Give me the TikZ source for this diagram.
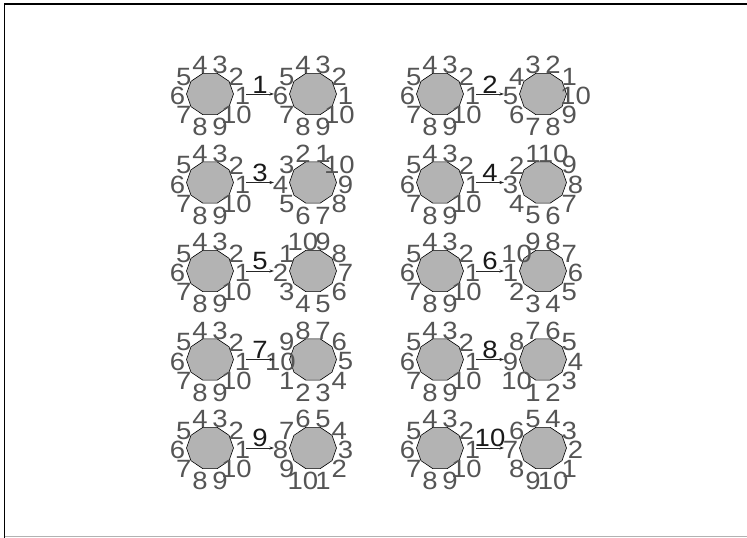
\documentclass[tikz,border=0pt]{standalone}
\usepackage{fontspec}
\setmainfont{Liberation Sans}
\newfontfamily\numfont[FakeStretch=1.1]{Liberation Sans}
\usetikzlibrary{shapes.geometric,arrows.meta}
\definecolor{decagray}{RGB}{179,179,179}
\definecolor{numgray}{RGB}{85,85,85}
\tikzset{
  deca/.style={regular polygon, regular polygon sides=10, minimum size=47pt,
    inner sep=0pt, draw=black, fill=decagray, line width=0.6pt, yscale=0.92},
  vlabel/.style={text=numgray, inner sep=0pt, font=\numfont\fontsize{25}{25}\selectfont},
  elabel/.style={text=black!90, inner sep=0.5pt, font=\numfont\fontsize{25}{25}\selectfont},
}
\begin{document}
\begin{tikzpicture}[x=1pt, y=1pt, >={Stealth[length=4.5pt,width=3pt]}]
    \useasboundingbox (0,0) rectangle (747,538);

    % Draw frame
    \draw[line width=1.5pt] (4.5,0) -- (4.5,534) -- (747,534);
    \draw[gray!60, line width=1pt] (4.5,1) -- (747,1);

    % Draw the ten pairs of decagons
    \foreach \k in {1,...,10} {
        \pgfmathsetmacro{\px}{210+230*mod(\k-1,2)}
        \pgfmathsetmacro{\py}{444-88.5*floor((\k-1)/2)}
        \node[deca] (L\k) at (\px,\py) {};
        \node[deca] (R\k) at (\px+103,\py) {};

        % Number the corners
        \foreach \i in {1,...,10} {
            \node[vlabel] (L\k-\i) at ({\px+32.5*cos(36*(\i-1))},{\py+32.5*sin(36*(\i-1))-2}) {\i};
            \node[vlabel] (R\k-\i) at ({\px+103+32.5*cos(36*(\i+\k-2))},{\py+32.5*sin(36*(\i+\k-2))-2}) {\i};
        }

        % Arrow between them
        \draw[->, black!85, line width=0.7pt] ([xshift=36pt]L\k.center) -- ([xshift=-39pt]R\k.center)
            node[elabel, midway, above] (E\k) {\k};
    }
\end{tikzpicture}
\end{document}
